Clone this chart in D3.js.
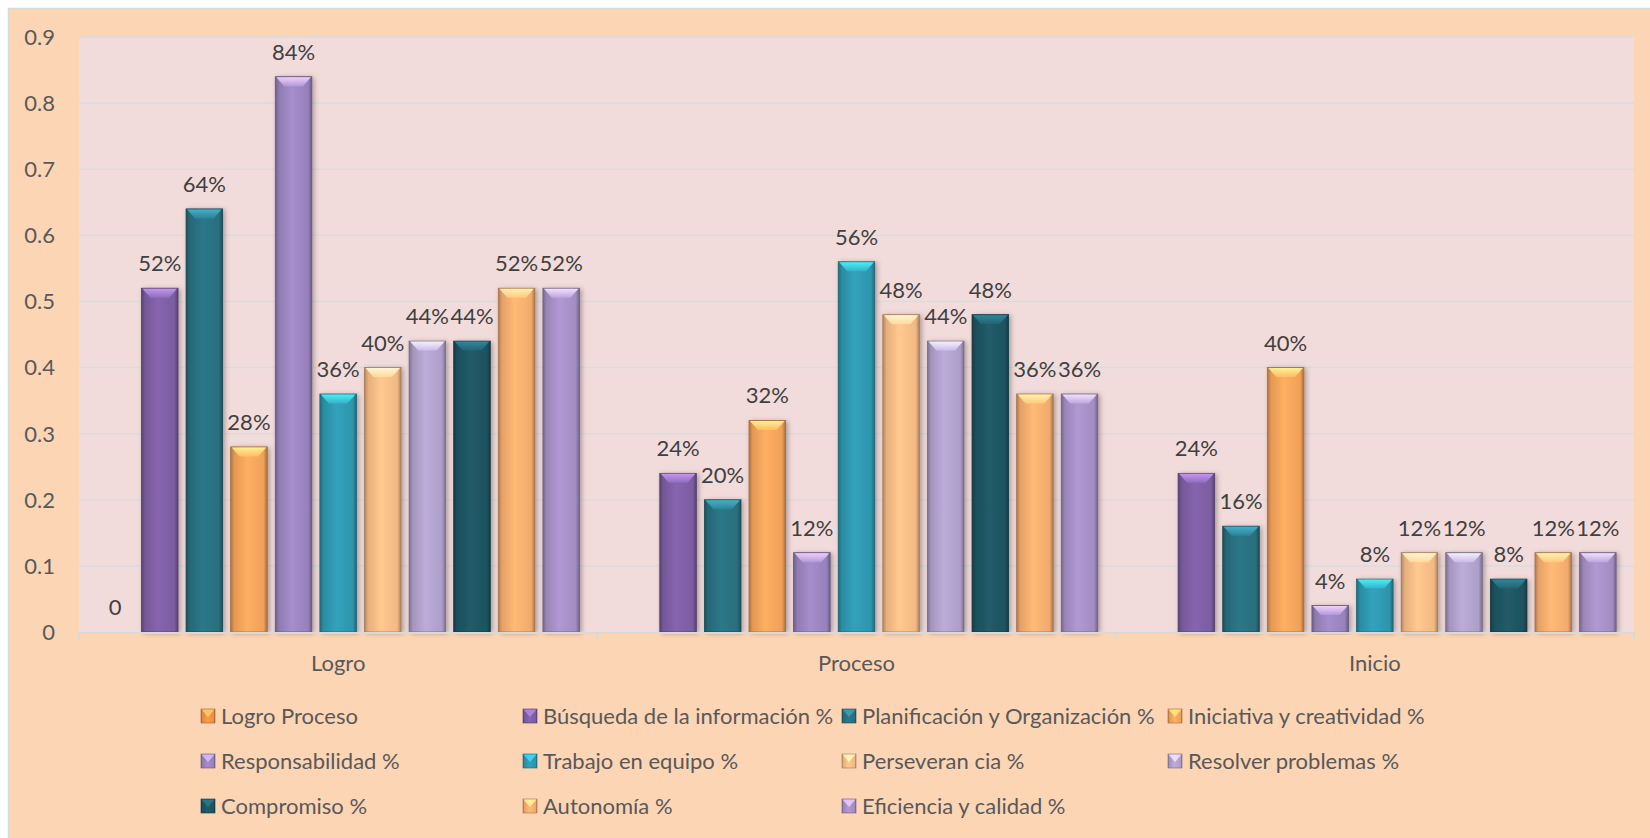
<!DOCTYPE html>
<html lang="es">
<head>
<meta charset="utf-8">
<title>Logro Proceso Inicio</title>
<script src="https://cdn.jsdelivr.net/npm/d3@7"></script>
<style>
  html, body { margin: 0; padding: 0; background: #fff; }
  body { font-family: 'Lato', 'Noto Sans', sans-serif; }
  svg { display: block; }
</style>
</head>
<body>
<div id="chart"></div>
<script>

/* Data */
/* ==== */

var categories = ['Logro', 'Proceso', 'Inicio'];

var seriesNames = [
  'Logro Proceso',
  'Búsqueda de la información %',
  'Planificación y Organización %',
  'Iniciativa y creatividad %',
  'Responsabilidad %',
  'Trabajo en equipo %',
  'Perseveran cia %',
  'Resolver problemas %',
  'Compromiso %',
  'Autonomía %',
  'Eficiencia y calidad %'
];

var logroProceso      = [0, null, null];
var busqueda          = [0.52, 0.24, 0.24];
var planificacion     = [0.64, 0.20, 0.16];
var iniciativa        = [0.28, 0.32, 0.40];
var responsabilidad   = [0.84, 0.12, 0.04];
var trabajo           = [0.36, 0.56, 0.08];
var perseverancia     = [0.40, 0.48, 0.12];
var resolver          = [0.44, 0.44, 0.12];
var compromiso        = [0.44, 0.48, 0.08];
var autonomia         = [0.52, 0.36, 0.12];
var eficiencia        = [0.52, 0.36, 0.12];

var seriesValues = [logroProceso, busqueda, planificacion, iniciativa, responsabilidad,
  trabajo, perseverancia, resolver, compromiso, autonomia, eficiencia];

var yTicks = [0, 0.1, 0.2, 0.3, 0.4, 0.5, 0.6, 0.7, 0.8, 0.9];

var seriesColors = ['#f29447', '#7f60a6', '#2a7282', '#f9a65c', '#9d86c2', '#2f9ab2',
  '#fbbf88', '#b3a3cf', '#1f5664', '#fab070', '#a891c8'];


/* Layout */
/* ====== */

var width = 1650,
    height = 838,
    margin = { left: 79, right: 16, top: 37, bottom: 206 },
    fontSize = 22;

var svg = d3.select('#chart').append('svg')
    .attr('width', width)
    .attr('height', height);

var defs = svg.append('defs');

// Outer chart area
svg.append('rect')
    .attr('x', 8.5).attr('y', 8.5)
    .attr('width', width).attr('height', height)
    .attr('fill', '#fcd5b5')
    .attr('stroke', '#d9d9d9')
    .attr('stroke-width', 1.5);

var plotW = width - margin.left - margin.right,
    plotH = height - margin.top - margin.bottom;

var x0 = d3.scaleBand()
    .domain(categories)
    .range([margin.left, margin.left + plotW]);

var x1 = d3.scaleBand()
    .domain(d3.range(seriesNames.length))
    .range([0, x0.bandwidth()])
    .paddingInner(0.18)
    .paddingOuter(0.4);

var y = d3.scaleLinear()
    .domain([0, 0.9])
    .range([margin.top + plotH, margin.top]);

// Plot background
svg.append('rect')
    .attr('x', margin.left).attr('y', margin.top)
    .attr('width', plotW).attr('height', plotH)
    .attr('fill', '#f2dcdb');

// Grid
svg.append('g')
  .selectAll('line')
  .data(yTicks.slice(1))
  .join('line')
    .attr('x1', margin.left).attr('x2', margin.left + plotW)
    .attr('y1', function(d) { return y(d); })
    .attr('y2', function(d) { return y(d); })
    .attr('stroke', '#d8dde0')
    .attr('stroke-width', 1.5);

// Y labels
svg.append('g')
  .selectAll('text')
  .data(yTicks)
  .join('text')
    .attr('x', 55)
    .attr('y', function(d) { return y(d); })
    .attr('dy', '0.36em')
    .attr('text-anchor', 'end')
    .attr('font-size', fontSize)
    .attr('fill', '#595959')
    .text(function(d) { return d3.format('')(d); });


/* Gradients for the bevelled bars */
/* =============================== */

seriesColors.forEach(function(c, i) {
  var base = d3.color(c);

  var g = defs.append('linearGradient')
      .attr('id', 'body' + i)
      .attr('x1', 0).attr('x2', 1).attr('y1', 0).attr('y2', 0);
  [[0, base.darker(1)], [0.1, base.darker(0.25)], [0.45, base.brighter(0.15)],
   [0.9, base.darker(0.1)], [1, base.darker(1.1)]].forEach(function(s) {
    g.append('stop').attr('offset', s[0]).attr('stop-color', s[1]);
  });

  var t = defs.append('linearGradient')
      .attr('id', 'top' + i)
      .attr('x1', 0).attr('x2', 0).attr('y1', 0).attr('y2', 1);
  t.append('stop').attr('offset', 0).attr('stop-color', base.brighter(1.4));
  t.append('stop').attr('offset', 1).attr('stop-color', base.brighter(0.4));
});

var shadow = defs.append('filter')
    .attr('id', 'shadow')
    .attr('x', '-30%').attr('y', '-10%')
    .attr('width', '160%').attr('height', '120%');
shadow.append('feDropShadow')
    .attr('dx', 2).attr('dy', 1)
    .attr('stdDeviation', 2.5)
    .attr('flood-color', '#000')
    .attr('flood-opacity', 0.3);


/* Bars */
/* ==== */

var bevel = 9;
var bw = x1.bandwidth();

var barData = [];
categories.forEach(function(cat, ci) {
  seriesValues.forEach(function(vals, si) {
    if (vals[ci] !== null) barData.push({ cat: cat, s: si, v: vals[ci] });
  });
});

var bars = svg.append('g')
  .selectAll('g')
  .data(barData.filter(function(d) { return d.v > 0; }))
  .join('g')
    .attr('transform', function(d) { return 'translate(' + (x0(d.cat) + x1(d.s)) + ',0)'; });

bars.append('rect')
    .attr('x', 0)
    .attr('y', function(d) { return y(d.v); })
    .attr('width', bw)
    .attr('height', function(d) { return y(0) - y(d.v); })
    .attr('fill', function(d) { return 'url(#body' + d.s + ')'; })
    .attr('stroke', function(d) { return d3.color(seriesColors[d.s]).darker(1.2); })
    .attr('stroke-width', 0.8)
    .attr('filter', 'url(#shadow)');

bars.append('path')
    .attr('d', function(d) {
      var t = y(d.v) + 0.5, b = Math.min(bevel, (y(0) - t) / 2);
      return 'M1,' + t + 'H' + (bw - 1) + 'L' + (bw - b) + ',' + (t + b) + 'H' + b + 'Z';
    })
    .attr('fill', function(d) { return 'url(#top' + d.s + ')'; })
    .attr('opacity', 0.85);

// Value labels
svg.append('g')
  .selectAll('text')
  .data(barData)
  .join('text')
    .attr('x', function(d) { return x0(d.cat) + x1(d.s) + bw / 2; })
    .attr('y', function(d) { return y(d.v) - 17; })
    .attr('text-anchor', 'middle')
    .attr('font-size', fontSize)
    .attr('fill', '#404040')
    .text(function(d) { return d.v === 0 ? '0' : d3.format('.0%')(d.v); });


/* X axis */
/* ====== */

var xAxis = svg.append('g');
xAxis.append('line')
    .attr('x1', margin.left).attr('x2', margin.left + plotW)
    .attr('y1', y(0) + 1).attr('y2', y(0) + 1)
    .attr('stroke', '#d9d9d9')
    .attr('stroke-width', 2);

xAxis.selectAll('.tick')
  .data(categories.concat(['end']))
  .join('line')
    .attr('x1', function(d, i) { return margin.left + i * x0.bandwidth(); })
    .attr('x2', function(d, i) { return margin.left + i * x0.bandwidth(); })
    .attr('y1', y(0)).attr('y2', y(0) + 7)
    .attr('stroke', '#d9d9d9')
    .attr('stroke-width', 2);

xAxis.selectAll('text')
  .data(categories)
  .join('text')
    .attr('x', function(d) { return x0(d) + x0.bandwidth() / 2; })
    .attr('y', 671)
    .attr('text-anchor', 'middle')
    .attr('font-size', fontSize)
    .attr('fill', '#595959')
    .text(function(d) { return d; });


/* Legend */
/* ====== */

var legendCols = [201, 523, 842, 1168],
    legendRows = [716, 761, 806];

var legend = svg.append('g')
  .selectAll('g')
  .data(seriesNames)
  .join('g')
    .attr('transform', function(d, i) {
      return 'translate(' + legendCols[i % 4] + ',' + legendRows[Math.floor(i / 4)] + ')';
    });

legend.append('rect')
    .attr('x', 0).attr('y', -7)
    .attr('width', 14).attr('height', 14)
    .attr('fill', function(d, i) { return 'url(#body' + i + ')'; })
    .attr('stroke', function(d, i) { return d3.color(seriesColors[i]).darker(1.2); })
    .attr('stroke-width', 0.6);

legend.append('path')
    .attr('d', 'M0.5,-6.5H13.5L7,1Z')
    .attr('fill', function(d, i) { return d3.color(seriesColors[i]).brighter(1); })
    .attr('opacity', 0.8);

legend.append('text')
    .attr('x', 20)
    .attr('y', 0)
    .attr('dy', '0.36em')
    .attr('font-size', fontSize)
    .attr('fill', '#595959')
    .text(function(d) { return d; });

</script>
</body>
</html>
